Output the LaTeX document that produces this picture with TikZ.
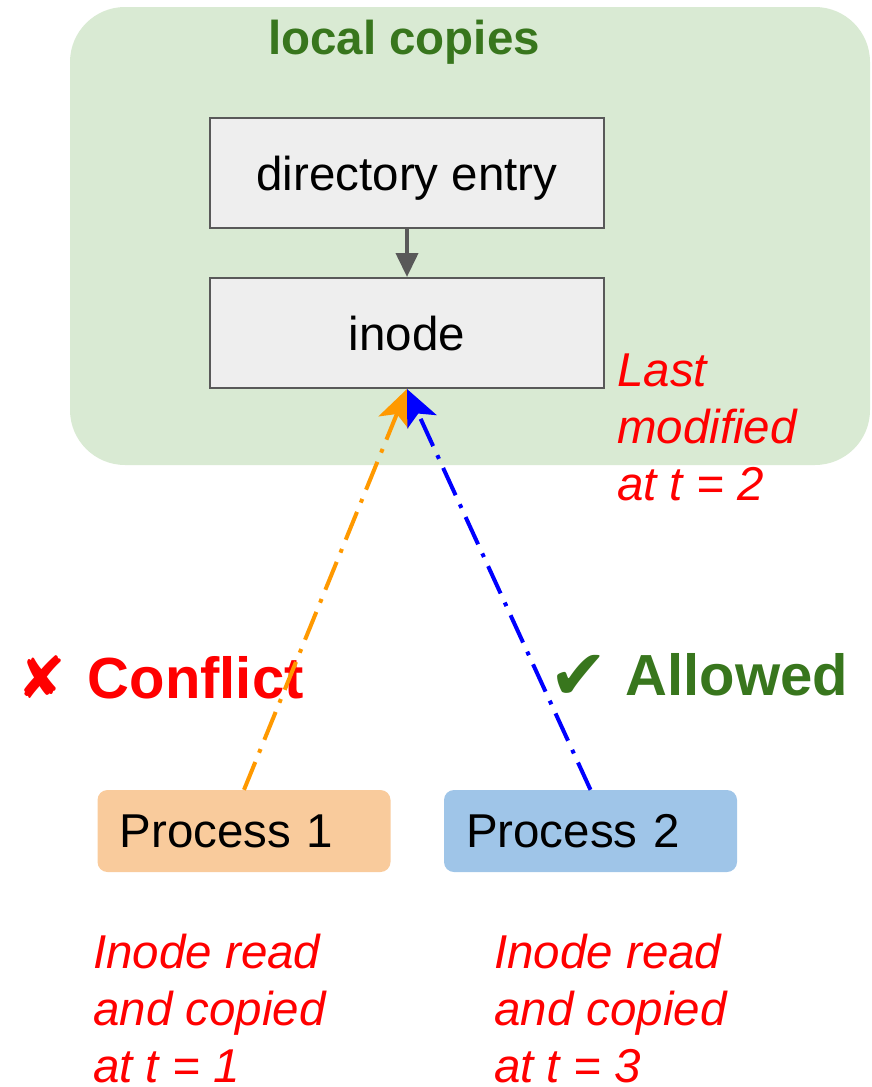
\documentclass[tikz,border=0pt]{standalone}
\usepackage{fontspec}
\setmainfont{Liberation Sans}
\newfontfamily\marksfont{DejaVu Sans}
\usetikzlibrary{arrows.meta}

\definecolor{copygreen}{HTML}{D9EAD3}
\definecolor{darkgreen}{HTML}{38761D}
\definecolor{boxgray}{HTML}{EEEEEE}
\definecolor{linegray}{HTML}{595959}
\definecolor{procorange}{HTML}{F9CB9C}
\definecolor{procblue}{HTML}{9FC5E8}
\definecolor{readorange}{HTML}{FF9900}

\begin{document}
\begin{tikzpicture}[x=1pt,y=-1pt,
		every node/.style={font=\fontsize{47.5}{57}\selectfont},
		entry/.style={draw=linegray, line width=2pt, fill=boxgray, text depth=0pt,
			minimum width=394pt, minimum height=110pt, inner sep=0pt},
		proc/.style={rounded corners=10pt, align=left, text width=249pt,
			inner xsep=22pt, inner ysep=0pt, minimum height=82pt},
		note/.style={text=red, font=\fontsize{47.5}{57}\selectfont\itshape,
			align=left, anchor=north west, inner sep=0pt},
		verdict/.style={font=\fontsize{58}{60}\selectfont\bfseries,
			anchor=base west, inner sep=0pt},
		access/.style={line width=4pt, dash pattern=on 30pt off 10pt on 4pt off 10pt,
			-{Stealth[length=36pt,width=32pt,inset=9pt]}}]
		\useasboundingbox (0,0) rectangle (871,1087);
		
		% local copies region
		\fill[copygreen, rounded corners=55pt] (70,7) rectangle (870,465);
		\node[text=darkgreen, font=\fontsize{47.5}{57}\selectfont\bfseries] (title) at (404,42) {local copies};
		
		\node[entry] (dentry) at (407,173) {directory entry};
		\node[entry] (inode) at (407,333) {inode};
		\draw[linegray, line width=4pt, -{Triangle[length=24pt,width=22pt]}] (dentry) -- (inode);
		
		\node[note] (lastmod) at (617,354) {Last\\modified\\at t = 2};
		
		% processes
		\node[proc, fill=procorange] (p1) at (244,831) {Process 1};
		\node[proc, fill=procblue] (p2) at (590.5,831) {Process 2};
		
		\node[note] (read1) at (93,934) {Inode read\\and copied\\at t = 1};
		\node[note] (read3) at (494,934) {Inode read\\and copied\\at t = 3};
		
		\node[verdict, text=red] (conflict) at (17,698) {{\marksfont ✘}\hspace{22pt}Conflict};
		\node[verdict, text=darkgreen] (allowed) at (549,695) {\raisebox{-4pt}{\marksfont\fontsize{70}{70}\selectfont ✔}\hspace{18pt}Allowed};
		
		\draw[access, readorange] (p1.north) -- (inode.south);
		\draw[access, blue] (p2.north) -- (inode.south);
\end{tikzpicture}
\end{document}
